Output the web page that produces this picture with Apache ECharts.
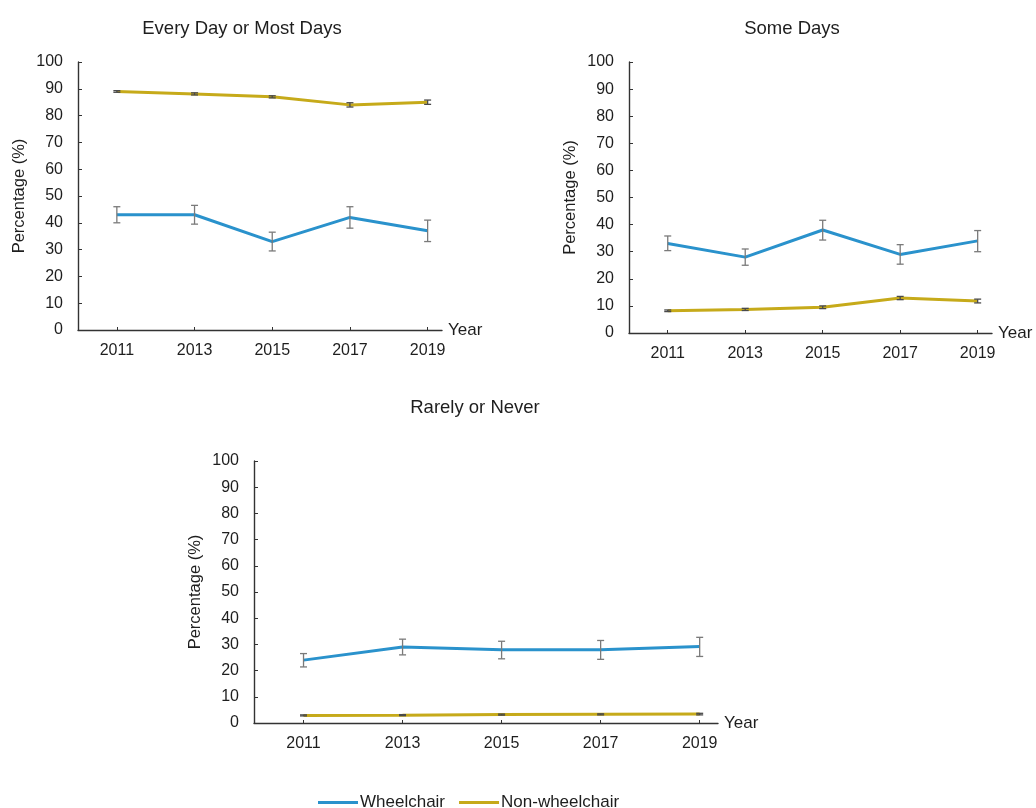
<!DOCTYPE html>
<html>
<head>
<meta charset="utf-8">
<script src="https://cdn.jsdelivr.net/npm/echarts@6/dist/echarts.min.js"></script>
<style>
  html, body { margin: 0; padding: 0; background: #fff; }
  #chart { width: 1036px; height: 808px; }
</style>
</head>
<body>
<div id="chart"></div>
<script>
// Survey years shown on every panel
const years = [2011, 2013, 2015, 2017, 2019];
const panelTitles = ['Every Day or Most Days', 'Some Days', 'Rarely or Never'];
const seriesNames = ['Wheelchair', 'Non-wheelchair'];

// Every Day or Most Days (%), with 95% CI bounds
const everyWheel     = [43, 43, 33, 42, 37];
const everyWheelLow  = [40, 39.5, 29.5, 38, 33];
const everyWheelHigh = [46, 46.5, 36.5, 46, 41];
const everyNon       = [89, 88.1, 87, 84, 85];
const everyNonLow    = [88.7, 87.7, 86.6, 83.2, 84.2];
const everyNonHigh   = [89.3, 88.5, 87.4, 84.8, 85.8];

// Some Days (%)
const someWheel     = [33, 28, 38, 29, 34];
const someWheelLow  = [30.4, 25, 34.3, 25.4, 30];
const someWheelHigh = [35.8, 31, 41.6, 32.6, 37.8];
const someNon       = [8.2, 8.7, 9.5, 12.9, 11.8];
const someNonLow    = [7.9, 8.3, 9.0, 12.3, 11.1];
const someNonHigh   = [8.5, 9.1, 10.0, 13.5, 12.5];

// Rarely or Never (%)
const rareWheel     = [24, 29, 28, 28, 29.2];
const rareWheelLow  = [21.4, 26, 24.5, 24.3, 25.4];
const rareWheelHigh = [26.5, 32, 31.2, 31.5, 32.7];
const rareNon       = [2.9, 3.0, 3.2, 3.3, 3.4];
const rareNonLow    = [2.7, 2.8, 3.0, 3.1, 3.1];
const rareNonHigh   = [3.1, 3.2, 3.4, 3.5, 3.7];

const yTicks = [0, 10, 20, 30, 40, 50, 60, 70, 80, 90, 100];

const BLUE = '#2a92cc';
const GOLD = '#c6aa1a';
const FONT = '"Liberation Sans", Arial, sans-serif';
const TEXT = '#1e1e1e';

const panels = [
  { w: everyWheel, wl: everyWheelLow, wh: everyWheelHigh, n: everyNon, nl: everyNonLow, nh: everyNonHigh },
  { w: someWheel, wl: someWheelLow, wh: someWheelHigh, n: someNon, nl: someNonLow, nh: someNonHigh },
  { w: rareWheel, wl: rareWheelLow, wh: rareWheelHigh, n: rareNon, nl: rareNonLow, nh: rareNonHigh }
];

const grids = [
  { left: 78, top: 62, width: 364, height: 268 },
  { left: 629, top: 62, width: 363, height: 271 },
  { left: 254, top: 461, width: 464, height: 262 }
];

const pairs = (vals) => years.map((y, i) => [y, vals[i]]);
const bars = (lo, hi) => years.map((y, i) => [y, lo[i], hi[i]]);

// Vertical confidence-interval whiskers with short caps
function errorRender(color) {
  return function (params, api) {
    const x = api.value(0);
    const lo = api.coord([x, api.value(1)]);
    const hi = api.coord([x, api.value(2)]);
    const hw = 3.5;
    const style = { stroke: color, lineWidth: 1.3 };
    return {
      type: 'group',
      children: [
        { type: 'line', shape: { x1: lo[0], y1: lo[1], x2: hi[0], y2: hi[1] }, style },
        { type: 'line', shape: { x1: lo[0] - hw, y1: lo[1], x2: lo[0] + hw, y2: lo[1] }, style },
        { type: 'line', shape: { x1: hi[0] - hw, y1: hi[1], x2: hi[0] + hw, y2: hi[1] }, style }
      ]
    };
  };
}

const axisLine = { lineStyle: { color: '#333', width: 1.4 } };
const xAxes = grids.map((g, i) => ({
  type: 'value', gridIndex: i, min: 2010, max: 2019.37,
  name: 'Year', nameLocation: 'end', nameGap: 6,
  nameTextStyle: { fontFamily: FONT, fontSize: 17, color: TEXT, verticalAlign: 'middle' },
  axisLine: axisLine,
  axisTick: { show: true, inside: true, length: 3, customValues: years, lineStyle: { color: '#333' } },
  axisLabel: {
    customValues: years, formatter: (v) => String(v),
    fontFamily: FONT, fontSize: 16, color: TEXT, margin: 13
  },
  splitLine: { show: false }
}));
const yAxes = grids.map((g, i) => ({
  type: 'value', gridIndex: i, min: 0, max: 100, interval: 10,
  name: 'Percentage (%)', nameLocation: 'middle', nameRotate: 90, nameGap: 50,
  nameTextStyle: { fontFamily: FONT, fontSize: 16.5, color: TEXT },
  axisLine: Object.assign({ show: true }, axisLine),
  axisTick: { show: true, inside: true, length: 4, lineStyle: { color: '#333' } },
  axisLabel: { customValues: yTicks, fontFamily: FONT, fontSize: 16, color: TEXT, margin: 15 },
  splitLine: { show: false }
}));

const series = [];
panels.forEach((p, i) => {
  series.push({
    name: seriesNames[0], type: 'line', xAxisIndex: i, yAxisIndex: i,
    data: pairs(p.w), showSymbol: false, lineStyle: { color: BLUE, width: 3 },
    itemStyle: { color: BLUE }, z: 3
  });
  series.push({
    name: seriesNames[1], type: 'line', xAxisIndex: i, yAxisIndex: i,
    data: pairs(p.n), showSymbol: false, lineStyle: { color: GOLD, width: 3 },
    itemStyle: { color: GOLD }, z: 3
  });
  series.push({
    name: 'ci-w-' + i, type: 'custom', xAxisIndex: i, yAxisIndex: i,
    data: bars(p.wl, p.wh), renderItem: errorRender('#7a7a7a'), z: 4, silent: true
  });
  series.push({
    name: 'ci-n-' + i, type: 'custom', xAxisIndex: i, yAxisIndex: i,
    data: bars(p.nl, p.nh), renderItem: errorRender('#4a4a4a'), z: 4, silent: true
  });
});

const titleStyle = { fontFamily: FONT, fontSize: 18.5, fontWeight: 'normal', color: TEXT };
const option = {
  backgroundColor: '#fff',
  animation: false,
  title: [
    { text: panelTitles[0], left: 237, top: 14, textAlign: 'center', textStyle: titleStyle },
    { text: panelTitles[1], left: 787, top: 14, textAlign: 'center', textStyle: titleStyle },
    { text: panelTitles[2], left: 470, top: 393, textAlign: 'center', textStyle: titleStyle }
  ],
  legend: {
    data: seriesNames, left: 313, top: 789, itemWidth: 40, itemHeight: 3, itemGap: 14,
    icon: 'rect',
    textStyle: { fontFamily: FONT, fontSize: 17, color: TEXT, padding: [0, 0, 0, -3] }
  },
  grid: grids,
  xAxis: xAxes,
  yAxis: yAxes,
  series: series
};

const chart = echarts.init(document.getElementById('chart'), null, { renderer: 'canvas' });
chart.setOption(option);
</script>
</body>
</html>
